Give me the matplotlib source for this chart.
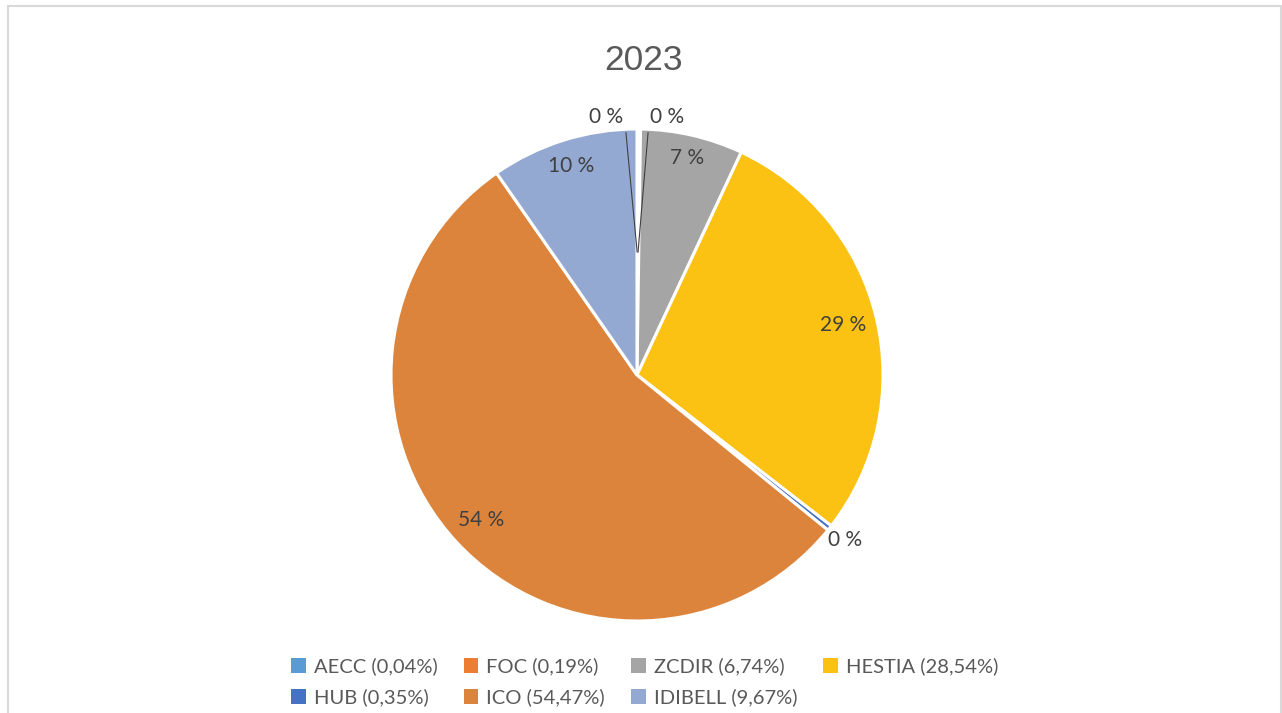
import numpy as np
import matplotlib.pyplot as plt
from matplotlib.patches import Patch, Rectangle

labels = ["AECC", "FOC", "ZCDIR", "HESTIA", "HUB", "ICO", "IDIBELL"]
values = [0.04, 0.19, 6.74, 28.54, 0.35, 54.47, 9.67]
legend_text = ["AECC (0,04%)", "FOC (0,19%)", "ZCDIR (6,74%)", "HESTIA (28,54%)",
               "HUB (0,35%)", "ICO (54,47%)", "IDIBELL (9,67%)"]
colors = ["#5B9BD5", "#ED7D31", "#A5A5A5", "#FBC213", "#4472C4", "#DD843C", "#94A9D2"]

plt.rcParams["font.family"] = ["Lato", "DejaVu Sans"]
W, H = 1282, 713
fig = plt.figure(figsize=(W / 100, H / 100), dpi=100)

# light gray frame of the chart area
fig.add_artist(Rectangle((8 / W, -0.05), (1281 - 8) / W, 1.05 - 6 / H,
                         transform=fig.transFigure, fill=False,
                         edgecolor="#D9D9D9", linewidth=1.5))

cx, cy, r = 637, 375, 246
ax = fig.add_axes([(cx - r) / W, (H - cy - r) / H, 2 * r / W, 2 * r / H])
wedges, _ = ax.pie(values, colors=colors, startangle=90, counterclock=False,
                   radius=1, wedgeprops=dict(edgecolor="white", linewidth=2.2))
ax.set_xlim(-1, 1)
ax.set_ylim(-1, 1)
ax.set_aspect("equal")
ax.axis("off")

txt = dict(fontsize=15, color="#404040", ha="center", va="center")
big_r = {"ZCDIR": 0.905, "HESTIA": 0.86, "ICO": 0.865, "IDIBELL": 0.89}
for w, lab, v in zip(wedges, labels, values):
    ang = np.deg2rad((w.theta1 + w.theta2) / 2)
    s = "%d %%" % round(v)
    if lab in big_r:
        rr = big_r[lab]
        ax.text(rr * np.cos(ang), rr * np.sin(ang), s, **txt)
    elif lab == "HUB":
        ax.text(1.08 * np.cos(ang), 1.08 * np.sin(ang), s, **txt)
    else:
        side = -1 if lab == "AECC" else 1
        lx, ly = side * 0.124, 1.048
        ax.text(lx, ly, s, clip_on=False, **txt)
        ax.plot([side * 0.045, 0.5 * np.cos(ang)], [0.985, 0.5 * np.sin(ang)],
                color="#404040", linewidth=0.8, clip_on=False)

fig.text(644 / W, 1 - 60 / H, "2023", fontsize=25.5, color="#595959",
         ha="center", va="center", family=["Liberation Sans", "DejaVu Sans"])

order = [0, 4, 1, 5, 2, 6, 3]
handles = [Patch(facecolor=colors[i], edgecolor="none") for i in order]
texts = [legend_text[i] for i in order]
fig.legend(handles, texts, ncol=4, loc="center", bbox_to_anchor=(0.503, 1 - 682 / H),
           frameon=False, fontsize=14.5, labelcolor="#595959",
           handlelength=0.72, handleheight=0.72, handletextpad=0.4,
           columnspacing=1.3, labelspacing=0.65)

fig.savefig("out.png", dpi=100)
